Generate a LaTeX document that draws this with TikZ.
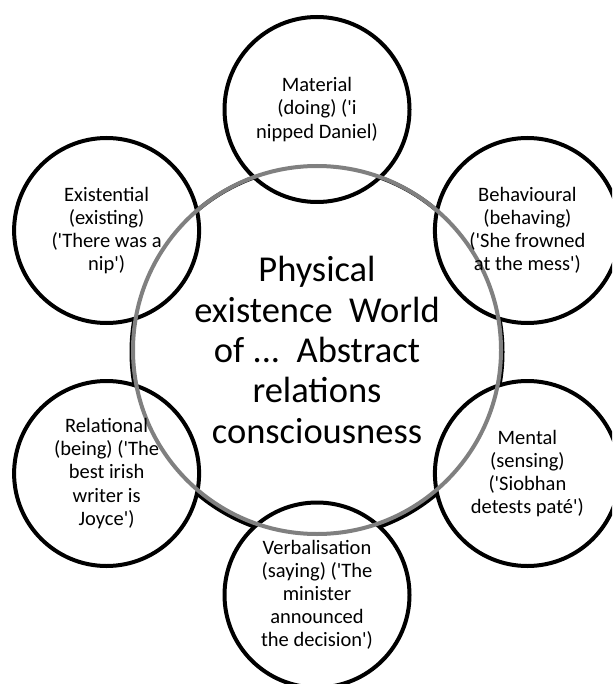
\documentclass[tikz,border=0pt]{standalone}
\usepackage{fontspec}
\newfontfamily\calib{Carlito}
\definecolor{ringgray}{RGB}{128,128,128}
\begin{document}
\begin{tikzpicture}[x=1pt,y=-1pt,
  bigc/.style={circle,draw=black,line width=4pt,inner sep=0pt,minimum size=371pt},
  smallc/.style={circle,draw=black,fill=white,line width=4pt,inner sep=0pt,minimum size=185pt},
  ringc/.style={circle,draw=ringgray,line width=4pt,inner sep=0pt,minimum size=368pt},
  smalltxt/.style={align=center,inner sep=0pt,font=\calib\fontsize{20.5}{23.1}\selectfont},
  bigtxt/.style={align=center,inner sep=0pt,font=\calib\fontsize{36.5}{40.3}\selectfont}]
\useasboundingbox (0,0) rectangle (612,684);
\fill[white] (0,0) rectangle (612,684);
\clip (0,0) rectangle (612,684);
% central circle
\node[bigc] (core) at (317,352) {};
% satellite circles
\node[smallc] (mat) at (317,109.5) {};
\node[smallc] (ext) at (106.6,230.5) {};
\node[smallc] (beh) at (527.4,230.5) {};
\node[smallc] (rel) at (106.6,473.5) {};
\node[smallc] (men) at (527.4,473.5) {};
\node[smallc] (ver) at (317,595) {};
% grey ring on top
\node[ringc] (ring) at (317,350) {};
% texts
\node[bigtxt] (coretxt) at (317,350) {Physical\\existence\ \ World\\of ...\ \ Abstract\\relations\\consciousness};
\node[smalltxt] (mattxt) at (mat.center) {Material\\(doing) ('i\\nipped Daniel)};
\node[smalltxt] (exttxt) at (ext.center) {Existential\\(existing)\\('There was a\\nip')};
\node[smalltxt] (behtxt) at (beh.center) {Behavioural\\(behaving)\\('She frowned\\at the mess')};
\node[smalltxt] (reltxt) at (rel.center) {Relational\\(being) ('The\\best irish\\writer is\\Joyce')};
\node[smalltxt] (mentxt) at (men.center) {Mental\\(sensing)\\('Siobhan\\detests paté')};
\node[smalltxt] (vertxt) at (ver.center) {Verbalisation\\(saying) ('The\\minister\\announced\\the decision')};
\end{tikzpicture}
\end{document}
